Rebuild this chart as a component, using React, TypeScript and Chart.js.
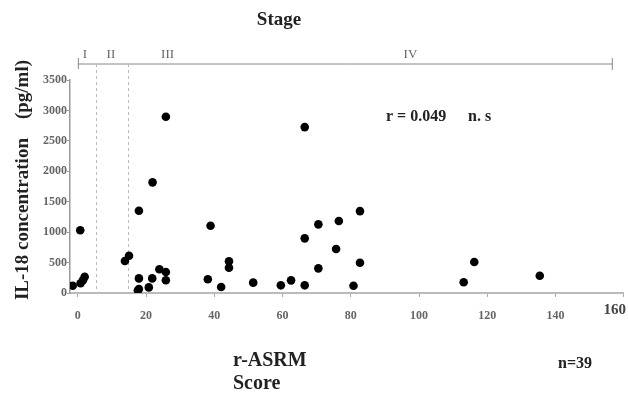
import React, { useEffect, useRef } from "react";
import { Chart, registerables } from "chart.js";

Chart.register(...registerables);

// r-ASRM score (x) and IL-18 concentration in pg/ml (y)
const scoreValues = [
  -1.5, 0.8, 1.5, 2.0, 0.7, 13.8, 15.0, 17.9, 21.9, 17.9,
  17.9, 17.6, 20.8, 21.8, 23.9, 25.8, 25.8, 25.8, 38.9, 38.1,
  42.0, 44.3, 44.3, 51.4, 59.5, 62.5, 66.5, 66.5, 66.5, 70.5,
  70.5, 76.5, 75.7, 82.7, 82.7, 80.8, 116.2, 113.1, 135.4,
];
const il18Values = [
  120, 160, 210, 265, 1030, 525, 612, 1352, 1818, 240,
  66, 40, 92, 240, 390, 345, 210, 2895, 1105, 225,
  98, 520, 416, 170, 126, 208, 2726, 126, 898, 1128,
  405, 1182, 722, 1346, 498, 120, 509, 176, 284,
];

const xTickValues = [0, 20, 40, 60, 80, 100, 120, 140, 160];
const yTickValues = [0, 500, 1000, 1500, 2000, 2500, 3000, 3500];

const stageNames = ["I", "II", "III", "IV"];
const stageNameAt = [2.1, 9.7, 26.3, 97.5];
const stageBoundaries = [5.3, 14.6];
const stageSpan = [0, 156.8];

const SERIF = '"Liberation Serif", "Times New Roman", serif';

const annotations = {
  id: "annotations",
  beforeDatasetsDraw(chart: any) {
    const { ctx, chartArea, scales } = chart;
    const xs = scales.x;
    ctx.save();

    // Stage title
    ctx.fillStyle = "#222";
    ctx.font = `bold 19px ${SERIF}`;
    ctx.textAlign = "center";
    ctx.textBaseline = "middle";
    ctx.fillText("Stage", 279, 20);

    // stage bracket line
    const lineY = 64;
    const x0 = xs.getPixelForValue(stageSpan[0]);
    const x1 = xs.getPixelForValue(stageSpan[1]);
    ctx.strokeStyle = "#888";
    ctx.lineWidth = 1;
    ctx.beginPath();
    ctx.moveTo(x0, lineY);
    ctx.lineTo(x1, lineY);
    ctx.moveTo(x0 + 0.5, lineY - 6);
    ctx.lineTo(x0 + 0.5, lineY + 5);
    ctx.moveTo(x1 - 0.5, lineY - 6);
    ctx.lineTo(x1 - 0.5, lineY + 6);
    ctx.stroke();

    // stage names
    ctx.fillStyle = "#666";
    ctx.font = `13px ${SERIF}`;
    stageNames.forEach((s, i) => {
      ctx.fillText(s, xs.getPixelForValue(stageNameAt[i]), lineY - 9);
    });

    // dashed stage boundaries
    ctx.strokeStyle = "#bbb";
    ctx.setLineDash([3, 3]);
    stageBoundaries.forEach((b) => {
      const px = Math.round(xs.getPixelForValue(b)) + 0.5;
      ctx.beginPath();
      ctx.moveTo(px, lineY);
      ctx.lineTo(px, chartArea.bottom);
      ctx.stroke();
    });
    ctx.setLineDash([]);

    // correlation text
    ctx.fillStyle = "#222";
    ctx.textAlign = "left";
    ctx.font = `bold 16px ${SERIF}`;
    ctx.fillText("r = 0.049", 386, 117);
    ctx.fillText("n. s", 468, 117);

    // x title
    ctx.font = `bold 20px ${SERIF}`;
    ctx.fillText("r-ASRM", 233, 361);
    ctx.fillText("Score", 233, 384);

    // n
    ctx.font = `bold 16px ${SERIF}`;
    ctx.fillText("n=39", 558, 364);

    // last x label
    ctx.fillStyle = "#444";
    ctx.font = `bold 15px ${SERIF}`;
    ctx.textAlign = "right";
    ctx.fillText("160", 626, 310);

    // y title
    ctx.save();
    ctx.translate(23, 180);
    ctx.rotate(-Math.PI / 2);
    ctx.textAlign = "center";
    ctx.fillStyle = "#222";
    ctx.font = `bold 19px ${SERIF}`;
    ctx.fillText("IL-18 concentration\u3000(pg/ml)", 0, 0);
    ctx.restore();

    ctx.restore();
  },
};

export default function App() {
  const canvasRef = useRef<HTMLCanvasElement | null>(null);

  useEffect(() => {
    const canvas = canvasRef.current;
    if (!canvas) return;
    const points = scoreValues.map((x, i) => ({ x, y: il18Values[i] }));
    const chart = new Chart(canvas, {
      type: "scatter",
      data: {
        datasets: [
          {
            data: points,
            backgroundColor: "#000",
            borderWidth: 0,
            pointRadius: 4.3,
          },
        ],
      },
      options: {
        animation: false,
        responsive: false,
        maintainAspectRatio: false,
        layout: { padding: { top: 80, right: 0, left: 0, bottom: 0 } },
        plugins: {
          legend: { display: false },
          tooltip: { enabled: false },
          title: { display: false },
        },
        scales: {
          x: {
            type: "linear",
            min: -2.3,
            max: 160,
            afterFit: (s: any) => {
              s.height = 100;
              s.paddingLeft = 0;
              s.paddingRight = 0;
            },
            afterBuildTicks: (s: any) => {
              s.ticks = xTickValues.map((v) => ({ value: v }));
            },
            ticks: {
              includeBounds: false,
              autoSkip: false,
              maxRotation: 0,
              padding: 12,
              color: "#666",
              font: { family: SERIF, size: 12, weight: "bold" },
              callback: (v: any) => (v === 160 ? "" : String(v)),
            },
            grid: {
              drawOnChartArea: false,
              drawTicks: true,
              tickLength: 4,
              color: "#aaa",
            },
            border: { color: "#bbb", width: 2 },
          },
          y: {
            type: "linear",
            min: 0,
            max: 3500,
            afterFit: (s: any) => {
              s.width = 70;
            },
            afterBuildTicks: (s: any) => {
              s.ticks = yTickValues.map((v) => ({ value: v }));
            },
            ticks: {
              autoSkip: false,
              padding: 0,
              color: "#666",
              font: { family: SERIF, size: 12, weight: "bold" },
              callback: (v: any) => String(v),
            },
            grid: {
              drawOnChartArea: false,
              drawTicks: true,
              tickLength: 3,
              color: "#999",
            },
            border: { color: "#999", width: 1.5 },
          },
        },
      },
      plugins: [annotations],
    });
    return () => chart.destroy();
  }, []);

  return (
    <div
      style={{
        position: "fixed",
        left: 0,
        top: 0,
        width: 628,
        height: 393,
        background: "#fff",
      }}
    >
      <canvas
        ref={canvasRef}
        width={628}
        height={393}
        style={{ display: "block", width: 628, height: 393 }}
      />
    </div>
  );
}
